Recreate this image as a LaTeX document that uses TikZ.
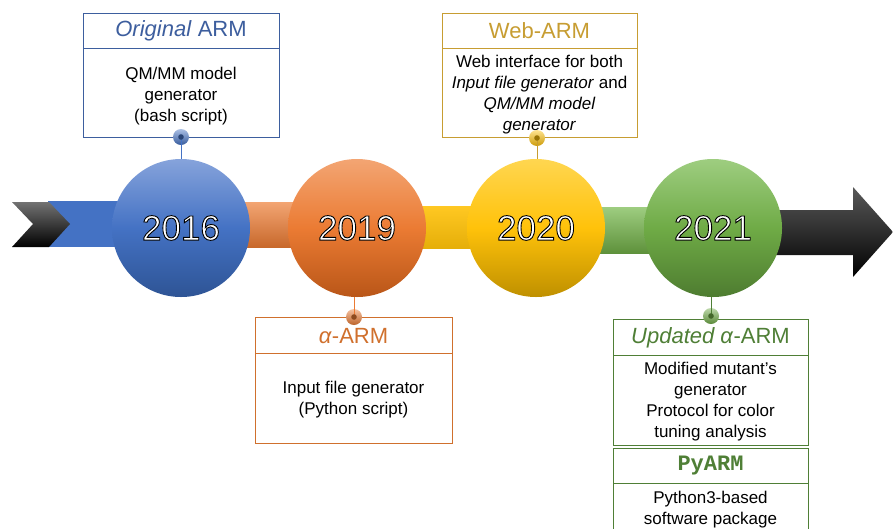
\documentclass[tikz,border=0pt]{standalone}
\usepackage{fontspec}
\setmainfont{Liberation Sans}
\newfontfamily\monob{Liberation Mono}
\definecolor{cblue}{HTML}{4472C4}
\definecolor{cblueT}{HTML}{86A3DB}
\definecolor{cblueB}{HTML}{2E5495}
\definecolor{corange}{HTML}{EB7B33}
\definecolor{corangeT}{HTML}{F3A573}
\definecolor{corangeB}{HTML}{B95618}
\definecolor{cyellow}{HTML}{FFC20A}
\definecolor{cyellowT}{HTML}{FFD650}
\definecolor{cyellowB}{HTML}{BF9000}
\definecolor{cgreen}{HTML}{6FAB46}
\definecolor{cgreenT}{HTML}{9ECD80}
\definecolor{cgreenB}{HTML}{4E7C30}
\definecolor{tblue}{HTML}{3D5E9E}
\definecolor{torange}{HTML}{D0702D}
\definecolor{tgold}{HTML}{C79D32}
\definecolor{tgreen}{HTML}{4F7F36}
\tikzset{
  year/.style={circle, minimum size=138pt, inner sep=0pt, text=white,
    font=\fontsize{35}{35}\selectfont},
  yblue/.style={year, top color=cblueT, bottom color=cblueB, middle color=cblue},
  yorange/.style={year, top color=corangeT, bottom color=corangeB, middle color=corange},
  yyellow/.style={year, top color=cyellowT, bottom color=cyellowB, middle color=cyellow},
  ygreen/.style={year, top color=cgreenT, bottom color=cgreenB, middle color=cgreen},
  frame/.style={draw=#1, line width=1pt, fill=white, inner sep=0pt},
  ttl/.style={text=#1, inner sep=0pt, font=\fontsize{22}{22}\selectfont},
  bdy/.style={text=black, inner sep=0pt, align=center, font=\fontsize{17}{21}\selectfont},
  pin/.style={circle, minimum size=16pt, inner sep=0pt, top color=#1!45!white, bottom color=#1!80!black},
  pinline/.style={draw=#1, line width=0.8pt},
}
\newcommand{\yr}[1]{\special{pdf:literal q 2 Tr 0.9 w 0 0 0 RG}#1\special{pdf:literal Q}}
\begin{document}
\begin{tikzpicture}[x=1pt,y=-1pt]
\useasboundingbox (0,0) rectangle (893,528);
% bands
\fill[cblue] (48,201) rectangle (181,247);
\shade[top color=corangeT, bottom color=corange!85!black] (181,202) rectangle (358,247);
\shade[top color=cyellow!90!white, bottom color=cyellow!90!black] (358,206) rectangle (536,248);
\shade[top color=cgreenT, bottom color=cgreen!85!black] (536,207) rectangle (713,253);
% black arrows
\shade[top color=black!55, bottom color=black] (12,202) -- (49,202) -- (70,224) -- (49,247) -- (12,247) -- (33,224) -- cycle;
\shade[top color=black!65, bottom color=black] (713,210) -- (853,210) -- (853,187) -- (893,232) -- (853,277) -- (853,255) -- (713,255) -- cycle;
% year circles
\node[yblue] (c16) at (181,228) {\yr{2016}};
\node[yorange] (c19) at (357,228) {\yr{2019}};
\node[yyellow] (c20) at (536,228) {\yr{2020}};
\node[ygreen] (c21) at (713,228) {\yr{2021}};
% box frames
\node[frame=tblue, minimum width=196pt, minimum height=35pt] (f16t) at (181,30.5) {};
\node[frame=tblue, minimum width=196pt, minimum height=89pt] (f16b) at (181,92.5) {};
\node[frame=tgold, minimum width=195pt, minimum height=35pt] (f20t) at (539.5,30.5) {};
\node[frame=tgold, minimum width=195pt, minimum height=89pt] (f20b) at (539.5,92.5) {};
\node[frame=torange, minimum width=197pt, minimum height=36pt] (f19t) at (353.5,335) {};
\node[frame=torange, minimum width=197pt, minimum height=90pt] (f19b) at (353.5,398) {};
\node[frame=tgreen, minimum width=195pt, minimum height=36pt] (f21t) at (710.5,337) {};
\node[frame=tgreen, minimum width=195pt, minimum height=90pt] (f21b) at (710.5,400) {};
\node[frame=tgreen, minimum width=195pt, minimum height=35pt] (fpyt) at (710.5,465.5) {};
\node[frame=tgreen, minimum width=195pt, minimum height=49pt] (fpyb) at (710.5,507.5) {};
% box texts
\node[ttl=tblue] (t16) at (181,31) {\textit{Original} ARM};
\node[bdy] (b16) at (181,96) {QM/MM model\\generator\\(bash script)};
\node[ttl=tgold] (t20) at (539.5,31) {Web-ARM};
\node[bdy] (b20) at (539.5,95) {Web interface for both\\\textit{Input file generator} and\\\textit{QM/MM model}\\\textit{generator}};
\node[ttl=torange] (t19) at (353.5,336) {\textit{α}-ARM};
\node[bdy] (b19) at (353.5,400) {Input file generator\\(Python script)};
\node[ttl=tgreen] (t21) at (710.5,338) {\textit{Updated α}-ARM};
\node[bdy] (b21) at (710.5,401.5) {Modified mutant’s\\generator\\Protocol for color\\tuning analysis};
\node[ttl=tgreen] (tpy) at (710.5,466) {\monob\bfseries PyARM};
\node[bdy] (bpy) at (710.5,510) {Python3-based\\software package};
% pins
\node[pin=cblue] (p16) at (181,137) {};
\node[pin=corange] (p19) at (354,317) {};
\node[pin=cyellow] (p20) at (537,138) {};
\node[pin=cgreen] (p21) at (711,316) {};
\draw[pinline=cblue] (p16.center) -- (p16.center |- c16.north);
\draw[pinline=corange] (p19.center) -- (p19.center |- c19.south);
\draw[pinline=tgold] (p20.center) -- (p20.center |- c20.north);
\draw[pinline=tgreen] (p21.center) -- (p21.center |- c21.south);
\foreach \p/\c in {p16/cblue, p19/corange, p20/cyellow, p21/cgreen}
  \fill[\c!60!black] (\p) circle (2.8pt);
\end{tikzpicture}
\end{document}
